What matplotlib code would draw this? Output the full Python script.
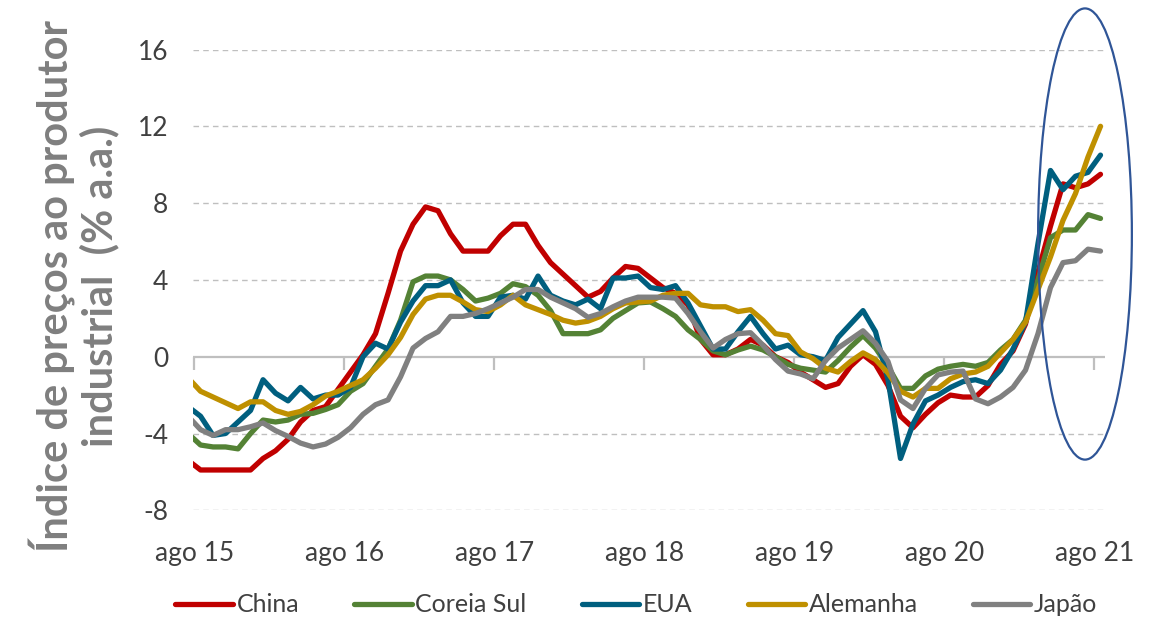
import numpy as np
import pandas as pd
import matplotlib
matplotlib.use("Agg")
import matplotlib.pyplot as plt
from matplotlib.patches import Ellipse
from matplotlib.lines import Line2D

plt.rcParams['font.family'] = ['Lato', 'DejaVu Sans']

# Monthly data, Jul 2015 .. Aug 2021 (74 points)
months = pd.date_range('2015-07-01', periods=74, freq='MS')

china = [-5.4, -5.9, -5.9, -5.9, -5.9, -5.9, -5.3, -4.9, -4.3, -3.4,
         -2.8, -2.6, -1.7, -0.8, 0.1, 1.2, 3.3, 5.5, 6.9, 7.8,
         7.6, 6.4, 5.5, 5.5, 5.5, 6.3, 6.9, 6.9, 5.8, 4.9,
         4.3, 3.7, 3.1, 3.4, 4.1, 4.7, 4.6, 4.1, 3.6, 3.3,
         2.7, 0.9, 0.1, 0.1, 0.4, 0.9, 0.6, 0.0, -0.3, -0.8,
         -1.2, -1.6, -1.4, -0.5, 0.1, -0.4, -1.5, -3.1, -3.7, -3.0,
         -2.4, -2.0, -2.1, -2.1, -1.5, -0.4, 0.3, 1.7, 4.4, 6.8,
         9.0, 8.8, 9.0, 9.5]

coreia = [-4.0, -4.6, -4.7, -4.7, -4.8, -4.0, -3.3, -3.4, -3.3, -3.0,
          -2.95, -2.75, -2.5, -1.8, -1.4, -0.5, 0.4, 1.9, 3.9, 4.2,
          4.2, 4.0, 3.5, 2.9, 3.05, 3.3, 3.8, 3.65, 3.2, 2.4,
          1.2, 1.2, 1.2, 1.4, 2.0, 2.4, 2.8, 2.85, 2.5, 2.1,
          1.4, 0.9, 0.3, 0.1, 0.35, 0.55, 0.35, 0.0, -0.4, -0.6,
          -0.7, -0.8, -0.2, 0.5, 1.1, 0.45, -0.5, -1.65, -1.65, -1.0,
          -0.65, -0.5, -0.4, -0.5, -0.3, 0.35, 0.9, 1.9, 4.0, 6.2,
          6.6, 6.6, 7.4, 7.2]

eua = [-2.6, -3.1, -4.1, -4.0, -3.4, -2.8, -1.2, -1.9, -2.3, -1.6,
       -2.2, -2.0, -2.0, -1.6, 0.0, 0.7, 0.4, 1.8, 2.9, 3.7,
       3.7, 4.0, 2.8, 2.1, 2.1, 3.1, 3.2, 3.0, 4.2, 3.2,
       2.9, 2.7, 3.0, 2.5, 4.1, 4.1, 4.2, 3.6, 3.5, 3.7,
       2.8, 1.6, 0.4, 0.4, 1.3, 2.1, 1.2, 0.4, 0.6, 0.1,
       0.0, -0.2, 1.0, 1.7, 2.4, 1.3, -1.2, -5.3, -3.5, -2.3,
       -2.0, -1.6, -1.3, -1.2, -1.4, -0.7, 0.4, 1.8, 5.9, 9.7,
       8.7, 9.4, 9.6, 10.5]

alemanha = [-1.1, -1.8, -2.1, -2.4, -2.7, -2.35, -2.35, -2.8, -3.0, -2.85,
            -2.5, -2.05, -1.8, -1.5, -1.2, -0.6, 0.1, 1.0, 2.2, 3.0,
            3.2, 3.2, 2.85, 2.45, 2.35, 2.7, 3.2, 2.7, 2.45, 2.2,
            1.9, 1.75, 1.85, 2.1, 2.5, 2.8, 2.85, 2.9, 3.2, 3.3,
            3.3, 2.7, 2.6, 2.6, 2.35, 2.45, 1.9, 1.2, 1.1, 0.25,
            -0.1, -0.6, -0.8, -0.25, 0.2, -0.15, -0.85, -1.8, -2.1, -1.65,
            -1.65, -1.15, -0.9, -0.8, -0.5, 0.2, 0.9, 1.8, 3.5, 5.2,
            7.1, 8.5, 10.4, 12.0]

japao = [-3.1, -3.8, -4.1, -3.8, -3.8, -3.65, -3.45, -3.85, -4.15, -4.5,
         -4.7, -4.55, -4.2, -3.7, -3.0, -2.5, -2.25, -1.05, 0.45, 0.95,
         1.3, 2.1, 2.1, 2.25, 2.5, 2.8, 3.1, 3.5, 3.5, 3.1,
         2.8, 2.5, 2.05, 2.25, 2.6, 2.9, 3.1, 3.1, 3.1, 3.05,
         2.25, 1.3, 0.45, 0.9, 1.2, 1.25, 0.6, -0.15, -0.75, -0.9,
         -1.15, -0.2, 0.45, 0.9, 1.35, 0.7, -0.25, -2.25, -2.7, -1.65,
         -0.95, -0.8, -0.75, -2.2, -2.45, -2.1, -1.6, -0.7, 1.2, 3.6,
         4.9, 5.0, 5.6, 5.5]

series_names = ['China', 'Coreia Sul', 'EUA', 'Alemanha', 'Japão']
series_values = [china, coreia, eua, alemanha, japao]
colors = ['#C00000', '#548235', '#005F7F', '#BF9000', '#808080']

tick_labels = ['ago 15', 'ago 16', 'ago 17', 'ago 18', 'ago 19', 'ago 20', 'ago 21']
y_ticks = [-8, -4, 0, 4, 8, 12, 16]

W, H = 1153, 620
fig = plt.figure(figsize=(W / 100, H / 100), dpi=100)

# axes placement in pixels
left_px, right_px = 193.3, 1105.0
top_px, bot_px = 49.5, 510.3
ax = fig.add_axes([left_px / W, 1 - bot_px / H, (right_px - left_px) / W, (bot_px - top_px) / H])

x = np.arange(len(months))
for name, vals, c in zip(series_names, series_values, colors):
    ax.plot(x, vals, color=c, lw=3.8, label=name, solid_joinstyle='round',
            solid_capstyle='round', zorder=3)

ax.set_xlim(0.42, 73.36)
ax.set_ylim(-8, 16)

# gridlines (dashed) except zero
for yv in y_ticks:
    if yv != 0:
        ax.axhline(yv, color='#BFBFBF', lw=1.0, ls=(0, (4, 3)), zorder=1)

# x axis at zero
for s in ['top', 'right', 'left', 'bottom']:
    ax.spines[s].set_visible(False)
ax.axhline(0, color='#BFBFBF', lw=1.6, zorder=2)

tick_pos = [0.5 + 12 * k for k in range(len(tick_labels))]
ax.set_xticks(tick_pos)
ax.set_xticklabels([])
ax.spines['bottom'].set_position(('data', 0))
ax.tick_params(axis='x', direction='out', length=9, width=1.6, color='#BFBFBF')
ax.xaxis.set_ticks_position('bottom')
trans = matplotlib.transforms.blended_transform_factory(ax.transData, fig.transFigure)
for tp, lab in zip(tick_pos, tick_labels):
    ax.text(tp, 1 - 553 / H, lab, transform=trans, ha='center', va='center',
            fontsize=19, color='#404040')

ax.set_yticks(y_ticks)
ax.set_yticklabels([str(v) for v in y_ticks], fontsize=19, color='#404040')
ax.tick_params(axis='y', length=0, pad=18)

# y label
fig.text(74 / W, 1 - 286 / H, 'Índice de preços ao produtor\nindustrial  (% a.a.)',
         rotation=90, ha='center', va='center', multialignment='center',
         fontsize=30, fontweight='bold', color='#7F7F7F', linespacing=1.1)

# highlight ellipse around the latest months
ell = Ellipse((71.76, 6.39), width=7.5, height=23.5, fill=False,
              edgecolor='#2F5597', lw=1.6, clip_on=False, zorder=5)
ax.add_patch(ell)

handles = [Line2D([0], [0], color=c, lw=3.8, solid_capstyle='round') for c in colors]
fig.legend(handles, series_names, loc='center', bbox_to_anchor=(0.552, 1 - 605 / H),
           ncol=5, frameon=False, fontsize=18, handlelength=2.3, handletextpad=0.15,
           columnspacing=2.2, labelcolor='#404040')

fig.savefig('out.png', dpi=100)
